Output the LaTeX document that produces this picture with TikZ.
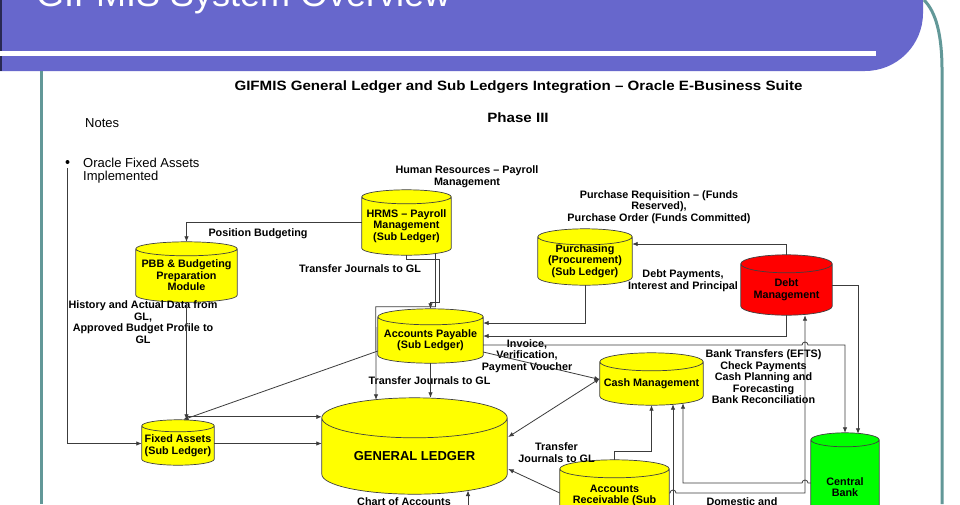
\documentclass[tikz,border=0pt]{standalone}
\usepackage{fontspec}
\setmainfont{Liberation Sans}
\newfontfamily\widesans[FakeStretch=1.12]{Liberation Sans}
\usetikzlibrary{arrows.meta, positioning, calc, backgrounds}

\definecolor{slidebar}{RGB}{103,103,204}
\definecolor{frameteal}{RGB}{98,152,152}
\definecolor{dbyellow}{RGB}{255,255,0}
\definecolor{dbred}{RGB}{255,0,0}
\definecolor{dbgreen}{RGB}{0,255,0}
\definecolor{wirec}{RGB}{60,60,60}

% cylinder drawn behind a named node (node = top ellipse centre .. bottom)
\newcommand\dbshape[3]{%
  \begin{scope}[on background layer]
    \path[draw=black!75, fill=#3, line width=0.7pt]
      let \p1=(#1.north west), \p2=(#1.south east), \n1={(\x2-\x1)/2} in
      (\p1) -- (\x1,\y2+#2)
        arc[start angle=180, end angle=360, x radius=\n1, y radius=#2]
      -- (\x2,\y1)
        arc[start angle=0, end angle=180, x radius=\n1, y radius=#2] -- cycle
      (\p1) arc[start angle=180, end angle=360, x radius=\n1, y radius=#2];
  \end{scope}
  \coordinate (#1-top) at ($(#1.north)+(0,#2)$);}

\begin{document}
\begin{tikzpicture}[
  x=1pt, y=1pt,
  lbl/.style  ={font=\fontsize{10.8}{11.5}\selectfont\bfseries, align=center,
                inner sep=0pt},
  db/.style   ={lbl, inner sep=0pt},
  hdr/.style  ={font=\widesans\fontsize{13.5}{16}\selectfont\bfseries, inner sep=0pt},
  note/.style ={font=\fontsize{13}{13}\selectfont, align=left, inner sep=0pt},
  wire/.style ={draw=wirec, line width=0.8pt},
  arr/.style  ={wire, -{Latex[length=5.5pt, width=4.5pt]}},
  darr/.style ={wire, {Latex[length=5.5pt, width=4.5pt]}-{Latex[length=5.5pt, width=4.5pt]}},
]
\useasboundingbox (0,0) rectangle (960,-504);
\begin{scope}[on background layer]
  \fill[white] (0,0) rectangle (960,-504);
\end{scope}

% slide frame
\fill[slidebar] (0,0) -- (923,0) -- (923,-13) arc[start angle=0, end angle=-90, radius=58]
  -- (0,-71) -- cycle;
\fill[black!60!slidebar] (0,0) rectangle (2,-71);
\fill[white] (0,-51) rectangle (876,-56);
\node[anchor=base west, text=white, font=\fontsize{36}{40}\selectfont, inner sep=0pt]
  (slidetitle) at (36,-6) {GIFMIS System Overview};
\draw[frameteal, line width=3pt] (924,0) .. controls (936,-12) and (942,-35) .. (942,-70)
  -- (942,-504);
\draw[frameteal, line width=3pt] (41,-71) -- (41,-504);

% headings and notes
\node[hdr] (title) at (518.5,-87)
  {GIFMIS General Ledger and Sub Ledgers Integration – Oracle E-Business Suite};
\node[hdr] (phase) at (518,-118) {Phase III};
\node[note, anchor=base west] (notes) at (85,-127) {Notes};
\node[circle, fill=black, inner sep=0pt, minimum size=4pt] (bul) at (67.5,-162) {};
\node[note, anchor=north west, font=\fontsize{13}{13}\selectfont] (fanote) at (83,-157.7)
  {Oracle Fixed Assets\\Implemented};

% ledgers
\node[db, minimum width=89pt, minimum height=58pt] (hrms) at (406.5,-226)
  {HRMS – Payroll\\Management\\(Sub Ledger)};
\node[db, minimum width=101pt, minimum height=53pt] (pbb) at (186.5,-275.5)
  {PBB \& Budgeting\\Preparation\\Module};
\node[db, minimum width=105pt, minimum height=46pt] (ap) at (430.5,-340)
  {Accounts Payable\\(Sub Ledger)};
\node[db, minimum width=94pt, minimum height=48pt] (pur) at (585,-261)
  {Purchasing\\(Procurement)\\(Sub Ledger)};
\node[db, minimum width=91pt, minimum height=51pt] (debt) at (786.5,-289.5)
  {Debt\\Management};
\node[db, minimum width=103pt, minimum height=43pt] (cash) at (651.5,-383.5)
  {Cash Management};
\node[db, minimum width=68pt, minimum height=94pt] (cb) at (845,-487)
  {Central\\Bank};
\node[db, minimum width=109pt, minimum height=64pt] (ar) at (614.5,-501)
  {Accounts\\Receivable (Sub\\Ledger)};
\node[db, minimum width=185pt, minimum height=76pt,
      font=\fontsize{13}{15}\selectfont\bfseries] (gl) at (414.5,-456) {GENERAL LEDGER};
\node[db, minimum width=72pt, minimum height=39pt] (fa) at (178,-445.5)
  {Fixed Assets\\(Sub Ledger)};

\dbshape{hrms}{7pt}{dbyellow}
\dbshape{pbb}{7pt}{dbyellow}
\dbshape{ap}{8pt}{dbyellow}
\dbshape{pur}{8pt}{dbyellow}
\dbshape{debt}{9pt}{dbred}
\dbshape{cash}{9pt}{dbyellow}
\dbshape{cb}{7pt}{dbgreen}
\dbshape{ar}{9pt}{dbyellow}
\dbshape{gl}{20pt}{dbyellow}
\dbshape{fa}{6pt}{dbyellow}

% labels
\node[lbl] (hrlbl) at (467,-176.5) {Human Resources – Payroll\\Management};
\node[lbl] (posbud) at (258,-234) {Position Budgeting};
\node[lbl] (hrtj) at (360,-268.5) {Transfer Journals to GL};
\node[lbl] (reqlbl) at (659,-207)
  {Purchase Requisition – (Funds\\Reserved),\\Purchase Order (Funds Committed)};
\node[lbl] (debtlbl) at (683,-280.5) {Debt Payments,\\Interest and Principal};
\node[lbl] (histlbl) at (143,-322)
  {History and Actual Data from\\GL,\\Approved Budget Profile to\\GL};
\node[lbl, fill=white, inner sep=1pt] (aptj) at (429.5,-380.5) {Transfer Journals to GL};
\node[lbl] (invlbl) at (527,-356) {Invoice,\\Verification,\\Payment Voucher};
\node[lbl] (banklbl) at (763.5,-377)
  {Bank Transfers (EFTS)\\Check Payments\\Cash Planning and\\Forecasting\\Bank Reconciliation};
\node[lbl] (artj) at (556.5,-452.5) {Transfer\\Journals to GL};
\node[lbl] (coalbl) at (404,-501.5) {Chart of Accounts};
\node[lbl] (domlbl) at (742,-502) {Domestic and};

\coordinate (vbus) at ($(debt.south)+(18.5,0)$);
\coordinate (vcash) at ($(cash.south)+(21.5,0)$);
\coordinate (domestic) at ($(vcash)+(0,-110)$);
\coordinate (coa) at ($(gl.south)+(53.5,-21)$);

% connectors
\draw[arr] ($(hrms.west)+(0,4)$) -| (pbb-top);
\draw[arr] (hrms.south) -- ++(0,-4) -| ($(ap-top)+(8.5,6)$) -| (ap-top);
\draw[arr] ($(hrms.south)+(29,2)$) |- ($(ap.north west)+(-2,10)$) -- ($(gl-top)+(-38.5,-2)$);
\draw[arr] (pur.south) |- ($(ap.east)+(0,17)$);
\draw[arr] (debt-top) |- ($(pur.east)+(0,17)$);
\draw[arr] (debt.south) |- ($(ap.east)+(0,4)$);
\draw[arr] ($(ap.east)+(0,-5)$) -- ($(ap.east -| vbus)+(-3,-5)$)
  arc[start angle=180, end angle=0, radius=3] -| (cb-top);
\draw[arr] ($(debt.east)+(0,4)$) -| ($(cb-top)+(13,-1)$);
\draw[arr] ($(ar.east)+(0,8)$) -- ($(ar.east -| vcash)+(-3,8)$)
  arc[start angle=180, end angle=0, radius=3] -| (vbus);
\draw[arr] ($(cb.west)+(0,4)$) -- ($(cb.west -| vbus)+(3,4)$)
  arc[start angle=0, end angle=180, radius=3] -| ($(cash.south)+(31.5,2)$);
\draw[arr] (domestic) -- ($(vcash)+(0,1)$);
\draw[arr] (ar-top) -- ++(0,8) -| (cash.south);
\draw[arr] ($(ar.west)+(0,8)$) -- ($(gl.east)+(1,-13)$);
\draw[darr] ($(cash.west)+(0,5)$) -- ($(gl.east)+(1,19)$);
\draw[arr] ($(ap.east)+(0,-12)$) -- ($(cash.west)+(0,4)$);
\draw[arr] (ap.south) -- ($(gl-top)+(16,0)$);
\draw[arr] ($(ap.west)+(0,-11)$) -- ($(fa-top)+(5,0)$);
\draw[arr] (pbb.south) -- (pbb.south |- fa-top);
\draw[arr] ($(fa-top)+(10,3)$) -- ($(fa-top -| gl.west)+(0,3)$);
\draw[arr] ($(fa.east)+(0,2)$) -- ($(fa.east -| gl.west)+(0,2)$);
\draw[arr] ($(bul)+(0,-6)$) |- ($(fa.west)+(0,2)$);
\draw[arr] (coa) -- ($(gl.south)+(53.5,3.7)$);
\end{tikzpicture}
\end{document}
